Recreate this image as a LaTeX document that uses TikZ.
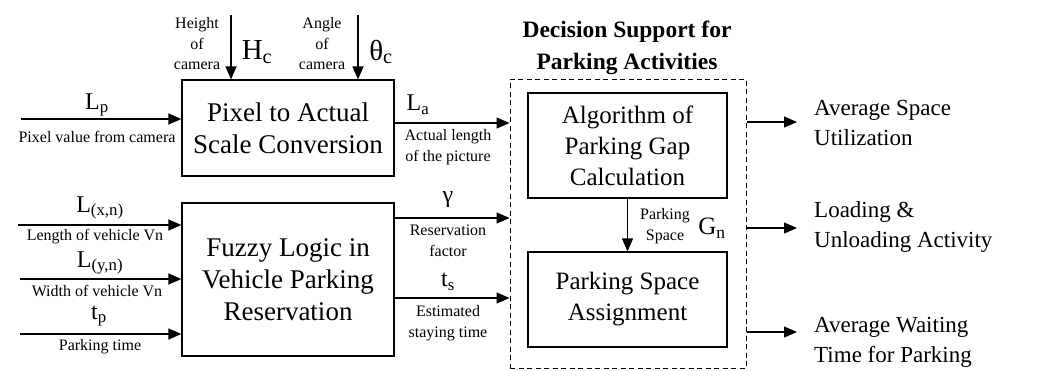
\documentclass[tikz,border=0pt]{standalone}
\usepackage{fontspec}
\setmainfont{LiberationSerif}[Extension=.ttf,UprightFont=*-Regular,BoldFont=*-Bold,ItalicFont=*-Italic,BoldItalicFont=*-BoldItalic]
\usetikzlibrary{arrows.meta}
\begin{document}
\begin{tikzpicture}[x=1pt,y=-1pt,
 box/.style={draw,line width=1.2pt,inner sep=0pt,align=center},
 lbox/.style={box,minimum width=212pt,font=\fontsize{27}{32}\selectfont},
 rbox/.style={box,minimum width=199pt,font=\fontsize{25}{31}\selectfont},
 arr/.style={line width=1.2pt,-{Triangle[length=13pt,width=11pt]}},
 small/.style={font=\fontsize{16}{20.5}\selectfont,align=center,inner sep=0pt},
 sym/.style={font=\fontsize{24}{28}\selectfont,inner sep=0pt},
 bigsym/.style={font=\fontsize{29}{32}\selectfont,inner sep=0pt},
 outl/.style={font=\fontsize{23}{30}\selectfont,align=left,anchor=west,inner sep=0pt}]
\useasboundingbox (0,0) rectangle (1056,370);
% boxes
\node[lbox,minimum height=96pt] (pix) at (288,128) {Pixel to Actual\\Scale Conversion};
\node[lbox,minimum height=153pt] (fuz) at (288,279.5) {Fuzzy Logic in\\Vehicle Parking\\Reservation};
\node[rbox,minimum height=105pt] (alg) at (627.5,145.5) {Algorithm of\\Parking Gap\\Calculation};
\node[rbox,minimum height=95pt] (psa) at (627.5,299.5) {Parking Space\\Assignment};
\node[draw,line width=1pt,dash pattern=on 5pt off 3.5pt,minimum width=236pt,minimum height=289pt,inner sep=0pt] (ds) at (628,223.5) {};
\node[font=\fontsize{23.5}{32}\selectfont\bfseries,align=center,inner sep=0pt] (title) at (627,48) {Decision Support for\\Parking Activities};
% top inputs
\coordinate (hc) at (231,15);
\coordinate (th) at (358,15);
\draw[arr] (hc) -- (hc |- pix.north);
\draw[arr] (th) -- (th |- pix.north);
\node[small] (hct) at (197,44) {Height\\of\\camera};
\node[small] (tht) at (322,44) {Angle\\of\\camera};
\node[bigsym] (hcs) at (257,52) {H\textsubscript{c}};
\node[bigsym] (ths) at (381,52) {θ\textsubscript{c}};
% pixel input/output
\coordinate (lp) at (21,119);
\draw[arr] (lp) -- (lp -| pix.west);
\node[sym] (lps) at (97,105) {L\textsubscript{p}};
\node[small] (lpt) at (97,137) {Pixel value from camera};
\coordinate (la) at (450,123);
\draw[arr] (pix.east |- la) -- (ds.west |- la);
\node[sym] (las) at (418,105) {L\textsubscript{a}};
\node[small] (lat) at (448,147) {Actual length\\of the picture};
% fuzzy inputs
\coordinate (lx) at (18,225);
\coordinate (ly) at (20,279);
\coordinate (tp) at (20,334);
\draw[arr] (lx) -- (lx -| fuz.west);
\draw[arr] (ly) -- (ly -| fuz.west);
\draw[arr] (tp) -- (tp -| fuz.west);
\node[sym] (lxs) at (100,208) {L\textsubscript{(x,n)}};
\node[small] (lxt) at (95,237) {Length of vehicle Vn};
\node[sym] (lys) at (100,263) {L\textsubscript{(y,n)}};
\node[small] (lyt) at (97,291) {Width of vehicle Vn};
\node[sym] (tps) at (99,316) {t\textsubscript{p}};
\node[small] (tpt) at (100,347) {Parking time};
% fuzzy outputs
\coordinate (ga) at (450,218);
\coordinate (ts) at (450,298);
\draw[arr] (fuz.east |- ga) -- (ds.west |- ga);
\draw[arr] (fuz.east |- ts) -- (ds.west |- ts);
\node[sym] (gas) at (448,200) {γ};
\node[small] (gat) at (448,241) {Reservation\\factor};
\node[sym] (tss) at (448,282) {t\textsubscript{s}};
\node[small] (tst) at (448,323) {Estimated\\staying time};
% inner arrow
\draw[arr] (alg.south) -- (psa.north);
\node[small] (pst) at (665,226) {Parking\\Space};
\node[sym,font=\fontsize{25}{28}\selectfont] (gns) at (712,228) {G\textsubscript{n}};
% outputs
\coordinate (o1) at (797,122);
\coordinate (o2) at (797,228);
\coordinate (o3) at (797,332);
\draw[arr] (ds.east |- o1) -- (o1);
\draw[arr] (ds.east |- o2) -- (o2);
\draw[arr] (ds.east |- o3) -- (o3);
\node[outl] (out1) at (814,123) {Average Space\\Utilization};
\node[outl] (out2) at (814,227) {Loading \&\\Unloading Activity};
\node[outl] (out3) at (814,342) {Average Waiting\\Time for Parking};
\end{tikzpicture}
\end{document}
